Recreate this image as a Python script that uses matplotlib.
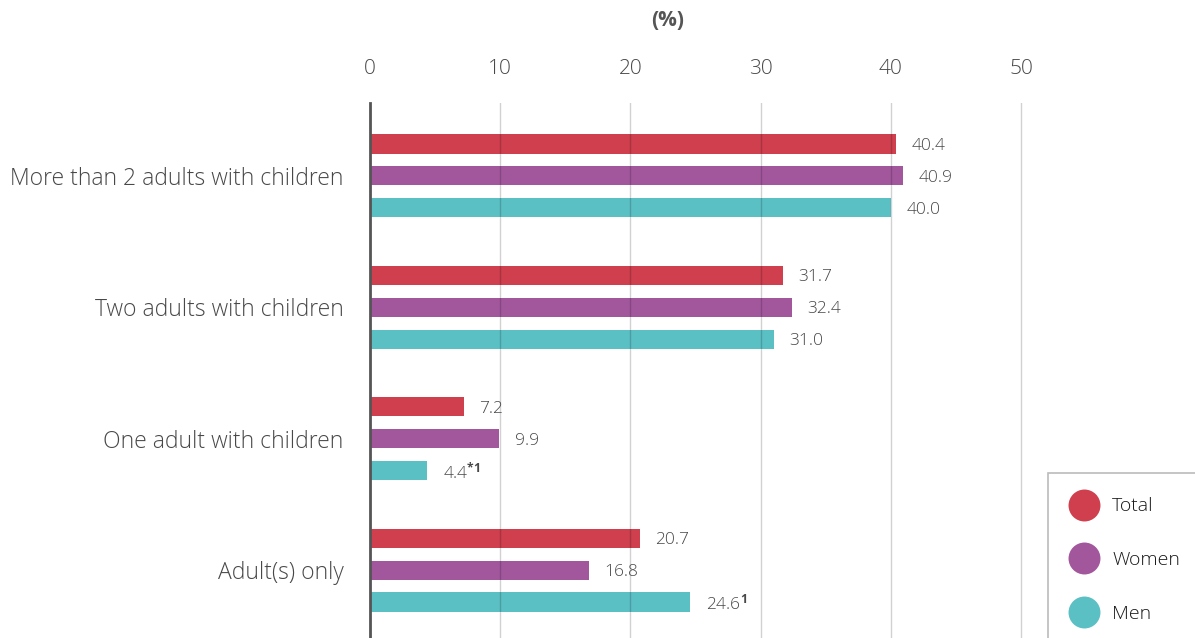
import numpy as np
import matplotlib
matplotlib.use("Agg")
from matplotlib import pyplot as plt
from matplotlib.lines import Line2D

plt.rcParams['font.family'] = ['Open Sans', 'DejaVu Sans']
plt.rcParams['font.weight'] = 'light'
plt.rcParams['mathtext.fontset'] = 'custom'
plt.rcParams['mathtext.rm'] = 'Open Sans'
plt.rcParams['mathtext.it'] = 'Open Sans'
plt.rcParams['mathtext.bf'] = 'Open Sans:bold'
plt.rcParams['mathtext.default'] = 'regular'

categories = ["More than 2 adults with children", "Two adults with children",
              "One adult with children", "Adult(s) only"]
series = ["Total", "Women", "Men"]
total = [40.4, 31.7, 7.2, 20.7]
women = [40.9, 32.4, 9.9, 16.8]
men = [40.0, 31.0, 4.4, 24.6]
total_lbl = ["40.4", "31.7", "7.2", "20.7"]
women_lbl = ["40.9", "32.4", "9.9", "16.8"]
men_lbl = ["40.0", "31.0", r"4.4$^{\mathbf{*1}}$", r"24.6$^{\mathbf{1}}$"]
colors = ["#CF3F4E", "#A2579D", "#5BC0C4"]
txtc = '#484848'

fig = plt.figure(figsize=(11.95, 6.38), dpi=100)
ax = fig.add_axes([370/1195, 0, (1025-370)/1195, 1 - 103/638])

y = np.arange(len(categories))
off = 0.243
h = 0.145
for i, (vals, lbls) in enumerate(zip([total, women, men], [total_lbl, women_lbl, men_lbl])):
    yy = y + (i - 1) * off
    ax.barh(yy, vals, height=h, color=colors[i], zorder=2)
    for v, yv, t in zip(vals, yy, lbls):
        ax.text(v + 1.2, yv, t, va='center_baseline', ha='left', fontsize=12.5, color=txtc)

ax.set_xlim(0, 50.3)
ax.set_ylim(3.517, -0.555)
ax.set_xticks(range(0, 51, 10))
ax.xaxis.tick_top()
ax.tick_params(axis='x', length=0, pad=17, labelsize=15, labelcolor=txtc)
ax.set_yticks(y)
ax.set_yticklabels(categories, fontsize=16.5, color=txtc)
ax.tick_params(axis='y', length=0, pad=19)
ax.grid(axis='x', color='#000000', alpha=0.18, linewidth=1, zorder=3)
ax.set_axisbelow(False)
for s in ['top', 'right', 'bottom']:
    ax.spines[s].set_visible(False)
ax.spines['left'].set_color('#555555')
ax.spines['left'].set_linewidth(2)
ax.spines['left'].set_zorder(4)

fig.text(668/1195, 1 - 21/638, "(%)", ha='center', va='center', fontsize=15,
         fontweight='bold', color='#555555')

handles = [Line2D([], [], marker='o', linestyle='none', markersize=23,
                  markerfacecolor=c, markeredgecolor='none') for c in colors]
leg = fig.legend(handles, series, loc='upper left',
                 bbox_to_anchor=(1048/1195, 1 - 473/638), frameon=True,
                 fontsize=14, labelspacing=1.85, handlelength=1.2, handletextpad=0.85,
                 borderpad=1.25, fancybox=False, borderaxespad=0)
leg.get_frame().set_edgecolor('#AAAAAA')
leg.get_frame().set_linewidth(1.2)
for t in leg.get_texts():
    t.set_color('#1a1a1a')

fig.savefig("out.png", dpi=100)
